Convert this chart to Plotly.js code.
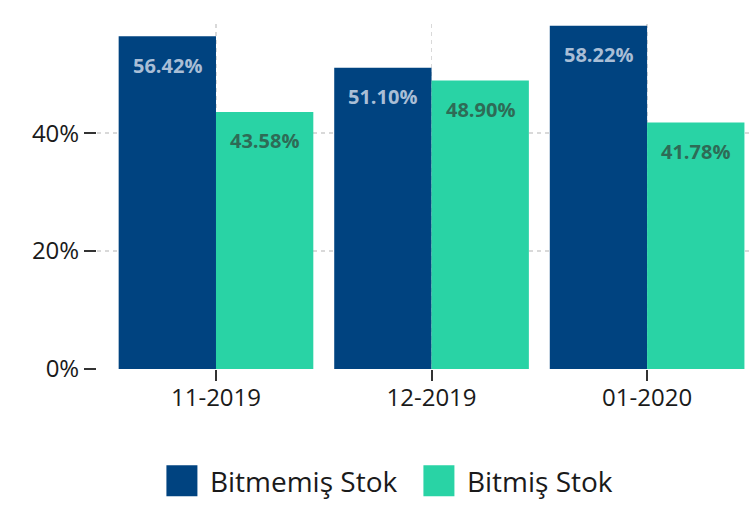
<!DOCTYPE html>
<html>
<head>
<meta charset="utf-8">
<script src="https://cdn.plot.ly/plotly-3.0.1.min.js"></script>
<style>
  html, body { margin: 0; padding: 0; background: #fff; overflow: hidden; }
  #plot { width: 751px; height: 519px; }
</style>
</head>
<body>
<div id="plot"></div>
<script>
/* Stok dağılımı (%) */

var months = ["11-2019", "12-2019", "01-2020"];

var bitmemisStok = [56.42, 51.10, 58.22];

var bitmisStok = [43.58, 48.90, 41.78];

var darkBlue = "#004380";
var green = "#29d3a5";

var trace1 =
{
  x: months,
  y: bitmemisStok,
  name: "Bitmemiş Stok",
  type: "bar",
  hoverinfo: "none",
  marker:
  {
    color: darkBlue,
    line: { width: 0 }
  }
};

var trace2 =
{
  x: months,
  y: bitmisStok,
  name: "Bitmiş Stok",
  type: "bar",
  hoverinfo: "none",
  marker:
  {
    color: green,
    line: { width: 0 }
  }
};

/* value labels near the top of each bar */
var annotations = [];
months.forEach(function (m, i) {
  annotations.push({
    x: m, y: bitmemisStok[i], xref: "x", yref: "y",
    xshift: -48.7, yshift: -29, yanchor: "middle",
    text: bitmemisStok[i].toFixed(2) + "%",
    showarrow: false,
    font: { family: "Open Sans", size: 20, color: "#a9bed6", weight: 700 }
  });
  annotations.push({
    x: m, y: bitmisStok[i], xref: "x", yref: "y",
    xshift: 48.7, yshift: -29, yanchor: "middle",
    text: bitmisStok[i].toFixed(2) + "%",
    showarrow: false,
    font: { family: "Open Sans", size: 20, color: "#2e6b56", weight: 700 }
  });
});

var layout = {
  width: 751,
  height: 519,
  margin: { l: 97, r: 0, t: 24, b: 150 },
  paper_bgcolor: "#fff",
  plot_bgcolor: "#fff",
  font: { family: "Open Sans", size: 24, color: "#1a1a1a" },
  barmode: "group",
  bargap: 0.097,
  bargroupgap: 0,
  showlegend: true,
  legend: {
    orientation: "h",
    xanchor: "center",
    yanchor: "middle",
    x: 0.48,
    y: -0.325,
    itemwidth: 46,
    entrywidth: 196,
    font: { family: "Open Sans", size: 28, color: "#1a1a1a" }
  },
  xaxis: {
    range: [-0.552, 2.482],
    showgrid: true,
    gridcolor: "#d9d9d9",
    gridwidth: 1.5,
    griddash: "4px,4px",
    zeroline: false,
    showline: false,
    ticks: "outside",
    ticklen: 11,
    tickwidth: 2,
    tickcolor: "#333",
    ticklabelstandoff: -4,
    fixedrange: true
  },
  yaxis: {
    range: [0, 58.5],
    dtick: 20,
    ticksuffix: "%",
    showgrid: true,
    gridcolor: "#d9d9d9",
    gridwidth: 1.5,
    griddash: "4px,4px",
    zeroline: false,
    showline: false,
    ticks: "outside",
    ticklen: 12,
    tickwidth: 2,
    tickcolor: "#333",
    fixedrange: true
  },
  annotations: annotations
};

var data = [trace1, trace2];

Plotly.newPlot("plot", data, layout, { displayModeBar: false, staticPlot: true }).then(function () {
  /* bigger legend squares */
  document.querySelectorAll(".legendpoints path").forEach(function (p) {
    p.setAttribute("d", "M15.5,15.5H-15.5V-15.5H15.5Z");
  });
});
</script>
</body>
</html>
